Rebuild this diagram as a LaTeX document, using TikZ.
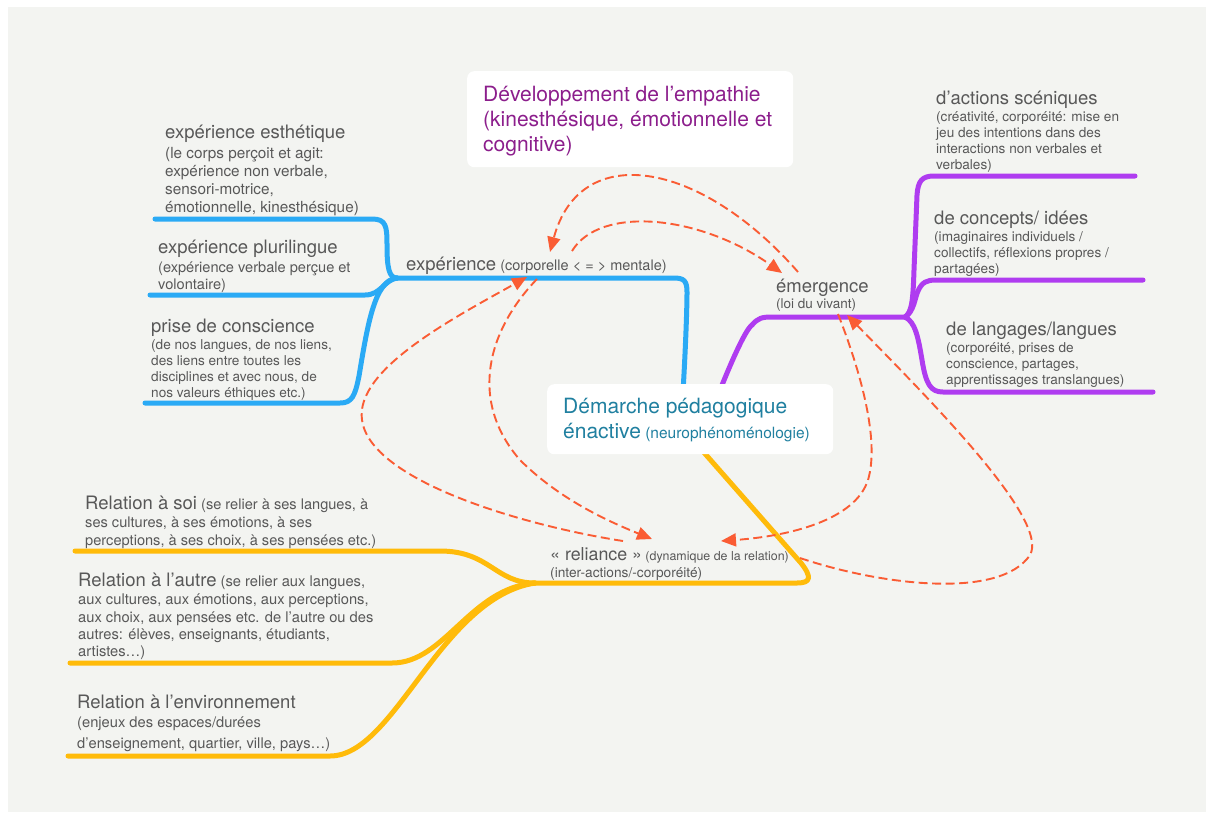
\documentclass[tikz,border=0pt]{standalone}
\usepackage{fontspec}
\setmainfont{TeX Gyre Heros}
\usetikzlibrary{arrows.meta}
\definecolor{bggray}{RGB}{243,244,241}
\definecolor{txtgray}{RGB}{88,88,88}
\definecolor{bluebr}{RGB}{42,170,245}
\definecolor{purplebr}{RGB}{175,60,240}
\definecolor{yellowbr}{RGB}{255,187,10}
\definecolor{relcol}{RGB}{250,92,52}
\definecolor{empcol}{RGB}{140,30,140}
\definecolor{tealcol}{RGB}{32,128,160}
\newcommand{\fsz}[1]{\fontsize{#1}{#1}\selectfont}
\tikzset{
  txt/.style={anchor=base west, inner sep=0pt, text=txtgray},
  br/.style={line width=5pt, line cap=round, line join=round},
  rel/.style={draw=relcol, line width=1.9pt, dash pattern=on 9pt off 4.5pt,
    -{Triangle[length=15pt,width=13pt]}},
  wbox/.style={fill=white, rounded corners=7pt, anchor=north west, inner sep=0pt}
}
\begin{document}
\begin{tikzpicture}[x=1pt,y=-1pt]
\useasboundingbox (0,0) rectangle (1206,812);
\fill[white] (0,0) rectangle (1206,812);
\fill[bggray] (8,7) rectangle (1206,812);

% hubs
\coordinate (hubB) at (397,278);
\coordinate (hubP) at (905,317);
\coordinate (hubY) at (535,583);

% ---------- blue branch ----------
\draw[br, bluebr] (683,392) .. controls (686,340) and (687,305) .. (687,292)
   .. controls (687,281) and (684,278) .. (674,278) -- (hubB);
\draw[br, bluebr] (155,219) -- (372,219) .. controls (386,219) and (387,226) .. (387,245)
   .. controls (387,268) and (389,278) .. (hubB);
\draw[br, bluebr] (150,295) -- (365,295) .. controls (381,295) and (384,280) .. (hubB);
\draw[br, bluebr] (145,403) -- (340,403) .. controls (352,403) and (355,396) .. (359,376)
   .. controls (368,322) and (375,280) .. (hubB);

% ---------- purple branch ----------
\draw[br, purplebr] (718,395) .. controls (730,365) and (745,330) .. (752,325)
   .. controls (758,318) and (762,317) .. (772,317) -- (hubP);
\draw[br, purplebr] (hubP) .. controls (912,312) and (913,300) .. (914,270) -- (917,195)
   .. controls (918,181) and (922,176) .. (934,176) -- (1135,176);
\draw[br, purplebr] (hubP) .. controls (914,312) and (915,297) .. (918,291)
   .. controls (922,282) and (927,280) .. (936,280) -- (1143,280);
\draw[br, purplebr] (hubP) .. controls (915,322) and (918,336) .. (922,360)
   .. controls (926,385) and (931,392) .. (943,392) -- (1153,392);

% ---------- yellow branch ----------
\draw[br, yellowbr] (700,448) -- (801,563) .. controls (812,577) and (811,583) .. (797,583) -- (hubY);
\draw[br, yellowbr] (75,551) -- (440,551) .. controls (490,551) and (495,583) .. (hubY);
\draw[br, yellowbr] (70,663) -- (392,663) .. controls (445,663) and (470,588) .. (hubY);
\draw[br, yellowbr] (68,756) -- (330,756) .. controls (395,756) and (440,598) .. (hubY);

% ---------- boxes ----------
\node[wbox, minimum width=326pt, minimum height=96pt] (empbox) at (467,71) {};
\node[wbox, minimum width=286pt, minimum height=70pt] (centbox) at (547,384) {};

\node[txt, text=empcol, font=\fsz{21}] (emp1) at (483,101) {Développement de l’empathie};
\node[txt, text=empcol, font=\fsz{21}] (emp2) at (483,126) {(kinesthésique, émotionnelle et};
\node[txt, text=empcol, font=\fsz{21}] (emp3) at (483,151) {cognitive)};

\node[txt, text=tealcol, font=\fsz{21}] (dem1) at (563,413) {Démarche pédagogique};
\node[txt, text=tealcol, font=\fsz{15.5}] (dem2) at (563,438) {{\fsz{21}énactive} (neurophénoménologie)};

% ---------- blue texts ----------
\node[txt, font=\fsz{14.5}] (exp) at (406,270) {{\fsz{18.5}expérience} (corporelle < = > mentale)};

\node[txt, font=\fsz{18.5}] (est0) at (165,138) {expérience esthétique};
\node[txt, font=\fsz{15.3}] (est1) at (165,158) {(le corps perçoit et agit:};
\node[txt, font=\fsz{15.3}] (est2) at (165,176) {expérience non verbale,};
\node[txt, font=\fsz{15.3}] (est3) at (165,194) {sensori-motrice,};
\node[txt, font=\fsz{15.3}] (est4) at (165,212) {émotionnelle, kinesthésique)};

\node[txt, font=\fsz{18.5}] (plu0) at (158,253) {expérience plurilingue};
\node[txt, font=\fsz{14.6}] (plu1) at (158,272) {(expérience verbale perçue et};
\node[txt, font=\fsz{14.6}] (plu2) at (158,289) {volontaire)};

\node[txt, font=\fsz{18.5}] (pri0) at (151,332) {prise de conscience};
\node[txt, font=\fsz{13.6}] (pri1) at (151,349) {(de nos langues, de nos liens,};
\node[txt, font=\fsz{13.6}] (pri2) at (151,365) {des liens entre toutes les};
\node[txt, font=\fsz{13.6}] (pri3) at (151,381) {disciplines et avec nous, de};
\node[txt, font=\fsz{13.6}] (pri4) at (151,397) {nos valeurs éthiques etc.)};

% ---------- purple texts ----------
\node[txt, font=\fsz{18.5}] (eme0) at (776,292) {émergence};
\node[txt, font=\fsz{13.5}] (eme1) at (776,308) {(loi du vivant)};

\node[txt, font=\fsz{18.5}] (act0) at (936,104) {d’actions scéniques};
\node[txt, font=\fsz{13.6}] (act1) at (936,121) {(créativité, corporéité: mise en};
\node[txt, font=\fsz{13.6}] (act2) at (936,137) {jeu des intentions dans des};
\node[txt, font=\fsz{13.6}] (act3) at (936,153) {interactions non verbales et};
\node[txt, font=\fsz{13.6}] (act4) at (936,169) {verbales)};

\node[txt, font=\fsz{18.5}] (con0) at (934,224) {de concepts/ idées};
\node[txt, font=\fsz{13.6}] (con1) at (934,241) {(imaginaires individuels /};
\node[txt, font=\fsz{13.6}] (con2) at (934,257) {collectifs, réflexions propres /};
\node[txt, font=\fsz{13.6}] (con3) at (934,273) {partagées)};

\node[txt, font=\fsz{18.5}] (lan0) at (946,335) {de langages/langues};
\node[txt, font=\fsz{13.6}] (lan1) at (946,352) {(corporéité, prises de};
\node[txt, font=\fsz{13.6}] (lan2) at (946,368) {conscience, partages,};
\node[txt, font=\fsz{13.6}] (lan3) at (946,384) {apprentissages translangues)};

% ---------- yellow texts ----------
\node[txt, font=\fsz{12.4}] (rel0) at (550,560) {{\fsz{17.8}« reliance »} (dynamique de la relation)};
\node[txt, font=\fsz{13.7}] (rel1) at (550,577) {(inter-actions/-corporéité)};

\node[txt, font=\fsz{14.6}] (soi0) at (85,509) {{\fsz{18.5}Relation à soi} (se relier à ses langues, à};
\node[txt, font=\fsz{14.6}] (soi1) at (85,527) {ses cultures, à ses émotions, à ses};
\node[txt, font=\fsz{14.6}] (soi2) at (85,545) {perceptions, à ses choix, à ses pensées etc.)};

\node[txt, font=\fsz{14.7}] (aut0) at (78,586) {{\fsz{18.5}Relation à l’autre} (se relier aux langues,};
\node[txt, font=\fsz{14.7}] (aut1) at (78,604) {aux cultures, aux émotions, aux perceptions,};
\node[txt, font=\fsz{14.7}] (aut2) at (78,622) {aux choix, aux pensées etc. de l’autre ou des};
\node[txt, font=\fsz{14.7}] (aut3) at (78,639) {autres: élèves, enseignants, étudiants,};
\node[txt, font=\fsz{14.7}] (aut4) at (78,656) {artistes…)};

\node[txt, font=\fsz{18.5}] (env0) at (77,708) {Relation à l’environnement};
\node[txt, font=\fsz{14.7}] (env1) at (77,727) {(enjeux des espaces/durées};
\node[txt, font=\fsz{14.7}] (env2) at (77,748) {d’enseignement, quartier, ville, pays…)};

% ---------- dashed relations ----------
\coordinate (emeS1) at (798,272);
\coordinate (expE1) at (550,252);
\coordinate (expS2) at (572,251);
\coordinate (emeE2) at (782,273);
\coordinate (relS3) at (623,541);
\coordinate (expE3) at (527,277);
\coordinate (expS4) at (537,279);
\coordinate (relE4) at (652,539);
\coordinate (emeS5) at (838,314);
\coordinate (relE5) at (721,541);
\coordinate (relS6) at (800,558);
\coordinate (emeE6) at (847,315);

\draw[rel] (emeS1) .. controls (700,160) and (580,140) .. (expE1);
\draw[rel] (expS2) .. controls (600,205) and (700,215) .. (emeE2);
\draw[rel] (relS3) .. controls (520,525) and (370,480) .. (362,420)
   .. controls (355,370) and (450,320) .. (expE3);
\draw[rel] (expS4) .. controls (488,330) and (468,400) .. (520,460)
   .. controls (560,500) and (610,522) .. (relE4);
\draw[rel] (emeS5) .. controls (860,370) and (880,440) .. (868,480)
   .. controls (855,520) and (790,536) .. (relE5);
\draw[rel] (relS6) .. controls (880,585) and (1000,600) .. (1030,555)
   .. controls (1050,520) and (930,400) .. (emeE6);
\end{tikzpicture}
\end{document}
